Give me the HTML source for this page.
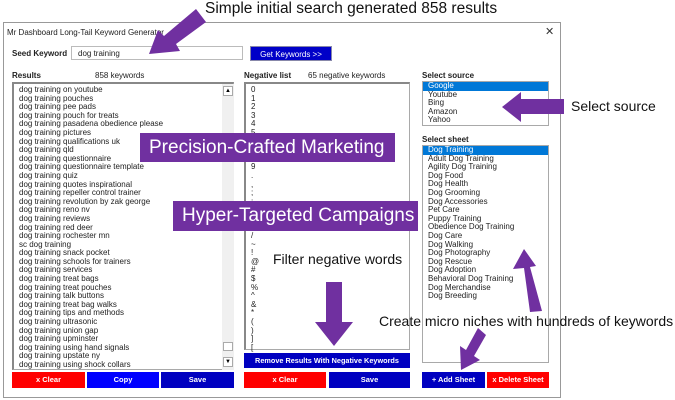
<!DOCTYPE html>
<html><head><style>
*{margin:0;padding:0;box-sizing:border-box}
body{width:675px;height:400px;background:#fff;position:relative;overflow:hidden;font-family:"Liberation Sans",sans-serif}
.a{position:absolute}
.t{font-size:8px;color:#222;white-space:nowrap}
.list{position:absolute;border:1px solid #a9a9a9;background:#fff}
.it{font-size:8px;line-height:8.6px;color:#222;white-space:nowrap;padding-left:5px}
.btn{position:absolute;color:#fff;font-size:7.5px;font-weight:bold;text-align:center;line-height:16px;height:16px;white-space:nowrap;overflow:hidden}
.ann{position:absolute;font-family:"Liberation Sans",sans-serif;color:#111;white-space:nowrap}
.box{position:absolute;background:#7030a0;color:#fff;font-family:"Liberation Sans",sans-serif;font-size:19px;white-space:nowrap;padding-left:9px;line-height:29px}
</style></head><body>
<div class="a" style="left:3px;top:22px;width:558px;height:376px;border:1px solid #999"></div>
<div class="a t" style="left:7px;top:28px">Mr Dashboard Long-Tail Keyword Generator</div>
<div class="a" style="left:545px;top:25px;font-size:11px;color:#333">✕</div>
<div class="a t" style="left:12px;top:49px;font-weight:bold">Seed Keyword</div>
<div class="a" style="left:71px;top:46px;width:172px;height:14px;border:1px solid #bbb"></div>
<div class="a t" style="left:78px;top:49px">dog training</div>
<div class="btn" style="left:250px;top:46px;width:82px;height:15px;line-height:15px;background:#0000c8;font-weight:normal;font-size:8px;border:1px solid #88a">Get Keywords &gt;&gt;</div>

<div class="a t" style="left:12px;top:71px;font-weight:bold">Results</div>
<div class="a t" style="left:95px;top:71px">858 keywords</div>
<div class="list" style="left:12px;top:82px;width:222px;height:288px;border-top:2px solid #888;border-left:2px solid #888">
<div style="padding-top:2px">
<div class="it">dog training on youtube</div><div class="it">dog training pouches</div><div class="it">dog training pee pads</div><div class="it">dog training pouch for treats</div><div class="it">dog training pasadena obedience please</div><div class="it">dog training pictures</div><div class="it">dog training qualifications uk</div><div class="it">dog training qld</div><div class="it">dog training questionnaire</div><div class="it">dog training questionnaire template</div><div class="it">dog training quiz</div><div class="it">dog training quotes inspirational</div><div class="it">dog training repeller control trainer</div><div class="it">dog training revolution by zak george</div><div class="it">dog training reno nv</div><div class="it">dog training reviews</div><div class="it">dog training red deer</div><div class="it">dog training rochester mn</div><div class="it">sc dog training</div><div class="it">dog training snack pocket</div><div class="it">dog training schools for trainers</div><div class="it">dog training services</div><div class="it">dog training treat bags</div><div class="it">dog training treat pouches</div><div class="it">dog training talk buttons</div><div class="it">dog training treat bag walks</div><div class="it">dog training tips and methods</div><div class="it">dog training ultrasonic</div><div class="it">dog training union gap</div><div class="it">dog training upminster</div><div class="it">dog training using hand signals</div><div class="it">dog training upstate ny</div><div class="it">dog training using shock collars</div>
</div>
<div class="a" style="left:208px;top:0;width:12px;height:286px;background:#f0f0f0"></div>
<div class="a" style="left:209px;top:2px;width:10px;height:10px;border:1px solid #aaa;font-size:6px;text-align:center;line-height:9px;background:#fff">▲</div>
<div class="a" style="left:209px;top:258px;width:10px;height:9px;border:1px solid #aaa;background:#fff"></div>
<div class="a" style="left:209px;top:273px;width:10px;height:10px;border:1px solid #aaa;font-size:6px;text-align:center;line-height:9px;background:#fff">▼</div>
</div>
<div class="btn" style="left:12px;top:372px;width:73px;background:#f00">x Clear</div>
<div class="btn" style="left:87px;top:372px;width:72px;background:#0000ff">Copy</div>
<div class="btn" style="left:161px;top:372px;width:73px;background:#0000c0">Save</div>

<div class="a t" style="left:244px;top:71px;font-weight:bold">Negative list</div>
<div class="a t" style="left:308px;top:71px">65 negative keywords</div>
<div class="list" style="left:244px;top:82px;width:166px;height:268px;border-top:2px solid #888;border-left:2px solid #888">
<div style="padding-top:2px">
<div class="it">0</div><div class="it">1</div><div class="it">2</div><div class="it">3</div><div class="it">4</div><div class="it">5</div><div class="it">6</div><div class="it">7</div><div class="it">8</div><div class="it">9</div><div class="it">.</div><div class="it">,</div><div class="it">;</div><div class="it">:</div><div class="it">'</div><div class="it">"</div><div class="it">?</div><div class="it">/</div><div class="it">~</div><div class="it">!</div><div class="it">@</div><div class="it">#</div><div class="it">$</div><div class="it">%</div><div class="it">^</div><div class="it">&amp;</div><div class="it">*</div><div class="it">(</div><div class="it">)</div><div class="it">]</div><div class="it">[</div>
</div></div>
<div class="btn" style="left:244px;top:353px;width:166px;height:15px;line-height:15px;background:#0000c0;font-size:7.3px">Remove Results With Negative Keywords</div>
<div class="btn" style="left:244px;top:372px;width:82px;background:#f00">x Clear</div>
<div class="btn" style="left:329px;top:372px;width:81px;background:#0000c0">Save</div>

<div class="a t" style="left:422px;top:71px;font-weight:bold">Select source</div>
<div class="list" style="left:422px;top:81px;width:127px;height:45px">
<div class="it" style="background:#0078d7;color:#fff">Google</div><div class="it">Youtube</div><div class="it">Bing</div><div class="it">Amazon</div><div class="it">Yahoo</div></div>
<div class="a t" style="left:422px;top:135px;font-weight:bold">Select sheet</div>
<div class="list" style="left:422px;top:145px;width:127px;height:218px">
<div class="it" style="background:#0078d7;color:#fff">Dog Training</div><div class="it">Adult Dog Training</div><div class="it">Agility Dog Training</div><div class="it">Dog Food</div><div class="it">Dog Health</div><div class="it">Dog Grooming</div><div class="it">Dog Accessories</div><div class="it">Pet Care</div><div class="it">Puppy Training</div><div class="it">Obedience Dog Training</div><div class="it">Dog Care</div><div class="it">Dog Walking</div><div class="it">Dog Photography</div><div class="it">Dog Rescue</div><div class="it">Dog Adoption</div><div class="it">Behavioral Dog Training</div><div class="it">Dog Merchandise</div><div class="it">Dog Breeding</div></div>
<div class="btn" style="left:422px;top:372px;width:63px;background:#0000c0">+ Add Sheet</div>
<div class="btn" style="left:487px;top:372px;width:62px;background:#f00">x Delete Sheet</div>

<div class="box" style="left:140px;top:133px;width:255px;height:29px">Precision-Crafted Marketing</div>
<div class="box" style="left:173px;top:201px;width:245px;height:30px">Hyper-Targeted Campaigns</div>

<div class="ann" style="left:205px;top:0px;font-size:15.5px">Simple initial search generated 858 results</div>
<div class="ann" style="left:571px;top:98px;font-size:14px">Select source</div>
<div class="ann" style="left:273px;top:251px;font-size:14px">Filter negative words</div>
<div class="ann" style="left:379px;top:313px;font-size:14px">Create micro niches with hundreds of keywords</div>

<svg class="a" style="left:0;top:0" width="675" height="400">
<g fill="#7030a0">
<polygon points="196,9 206,22 176,44 180,51 149,54 158,30 164,36"/>
<polygon points="326,282 342,282 342,322 353,322 334,346 315,322 326,322"/>
<polygon points="564,99 564,114 521,114 521,122 502,107 521,92 521,99"/>
<polygon points="542,311 530,312 524,268 513,269 524,249 536,266 530,267"/>
<polygon points="486,335 478,328 466,350 460,346 461,370 480,360 474,356"/>
</g>
</svg>
</body></html>
